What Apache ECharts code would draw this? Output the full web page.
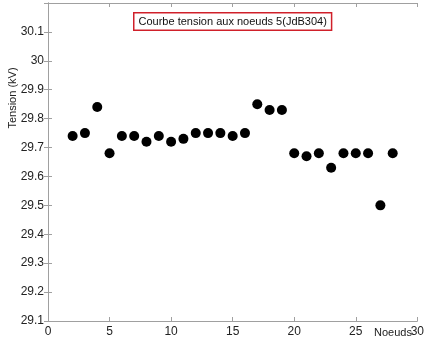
<!DOCTYPE html>
<html>
<head>
<meta charset="utf-8">
<script src="https://cdn.jsdelivr.net/npm/echarts@6/dist/echarts.min.js"></script>
<style>
  html, body { margin: 0; padding: 0; background: #fff; }
  #chart { width: 427px; height: 339px; }
</style>
</head>
<body>
<div id="chart"></div>
<script>
var noeuds = [2, 3, 4, 5, 6, 7, 8, 9, 10, 11, 12, 13, 14, 15, 16, 17, 18, 19, 20, 21, 22, 23, 24, 25, 26, 27, 28]
var tension = [29.74, 29.75, 29.84, 29.68, 29.74, 29.74, 29.72, 29.74, 29.72, 29.73, 29.75, 29.75, 29.75, 29.74, 29.75,
  29.85, 29.83, 29.83, 29.68, 29.67, 29.68, 29.63, 29.68, 29.68, 29.68, 29.50, 29.68]
var titre = 'Courbe tension aux noeuds 5(JdB304)'

var points = noeuds.map(function(n, i) { return [n, tension[i]] })
var font = 'Liberation Sans, Arial, sans-serif'
var gris = '#a0a0a0'

function axeX(pos, labels) {
  return {
    type: 'value', position: pos, min: 0, max: 30, interval: 5,
    axisLine: { show: true, onZero: false, lineStyle: { color: gris } },
    axisTick: { show: true, inside: true, length: 4, lineStyle: { color: gris } },
    axisLabel: { show: labels, color: '#222', fontSize: 12, fontFamily: font, margin: 5 },
    splitLine: { show: false }
  }
}
function axeY(pos, labels) {
  return {
    type: 'value', position: pos, min: 29.1, max: 30.2, interval: 0.1,
    axisLine: { show: true, lineStyle: { color: gris } },
    axisTick: { show: true, inside: true, length: 4, lineStyle: { color: gris } },
    axisLabel: {
      show: labels, color: '#222', fontSize: 12, fontFamily: font, margin: 4,
      formatter: function(v) {
        var s = parseFloat(v.toFixed(1))
        return s >= 30.15 ? '' : String(s)
      }
    },
    splitLine: { show: false }
  }
}

var chart = echarts.init(document.getElementById('chart'))
chart.setOption({
  animation: false,
  backgroundColor: '#fff',
  grid: { left: 48, right: 6, top: 3, bottom: 18 },
  xAxis: [axeX('bottom', true), axeX('top', false)],
  yAxis: [axeY('left', true), axeY('right', false)],
  graphic: [
    {
      type: 'text', left: 133, top: 12,
      style: {
        text: titre, fontSize: 11, fontFamily: font, fill: '#111',
        backgroundColor: '#fff', borderColor: '#d0202a', borderWidth: 1.5,
        padding: [3, 4, 2, 4]
      }
    },
    {
      type: 'text', x: 7, y: 98, rotation: Math.PI / 2,
      style: { text: 'Tension (kV)', fontSize: 11, fontFamily: font, fill: '#222', align: 'center', verticalAlign: 'top' }
    },
    {
      type: 'text', left: 374, top: 327,
      style: { text: 'Noeuds', fontSize: 11, fontFamily: font, fill: '#222' }
    }
  ],
  series: [{
    type: 'scatter',
    data: points,
    symbol: 'circle',
    symbolSize: 10,
    itemStyle: { color: '#000', opacity: 1 }
  }]
})
</script>
</body>
</html>
